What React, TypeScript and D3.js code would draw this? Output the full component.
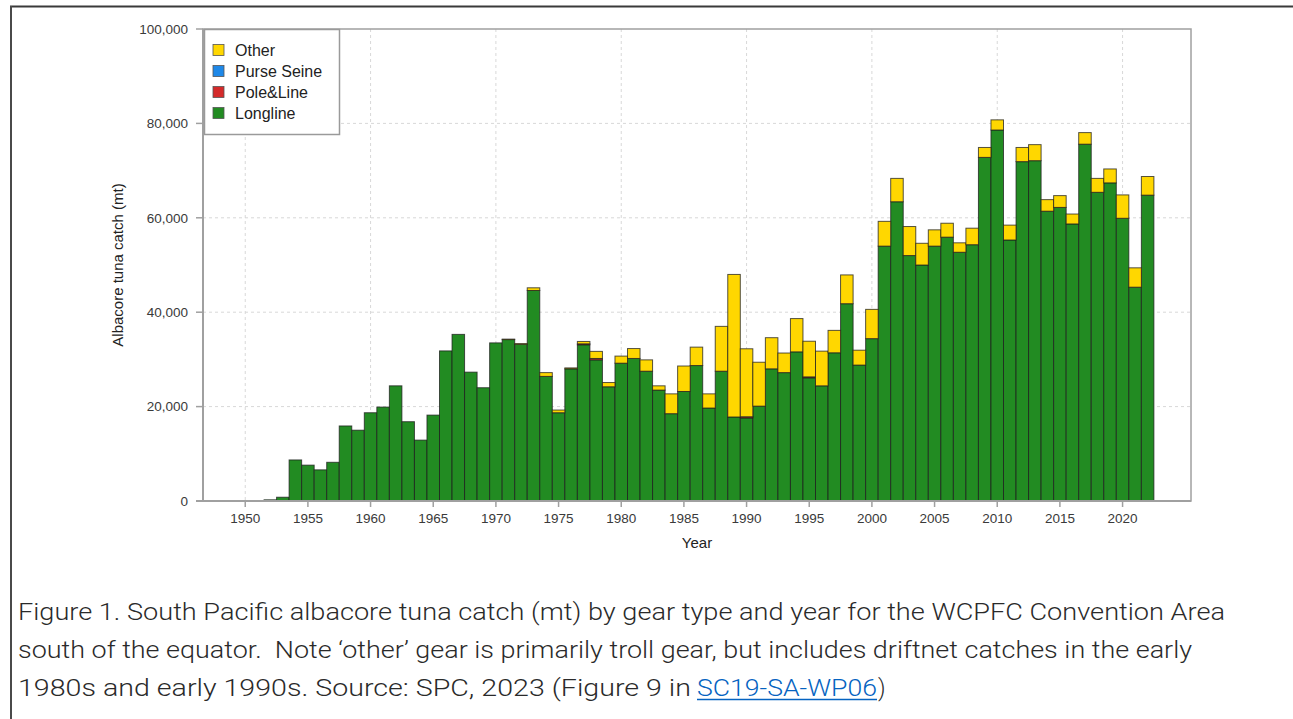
import React from 'react';
import * as d3 from 'd3';

// years 1952..2022
const years = d3.range(1952, 2023);

const longline = [
  250, 800, 8700, 7600, 6600, 8200, 15900, 15000, 18700, 19900,
  24400, 16800, 12900, 18200, 31800, 35300, 27300, 24000, 33500, 34200,
  33200, 44600, 26400, 18700, 28000, 33100, 29900, 24200, 29200, 30200,
  27500, 23500, 18500, 23200, 28700, 19700, 27500, 17800, 17600, 20100,
  28000, 27200, 31600, 26100, 24400, 31400, 41800, 28800, 34400, 54000,
  63400, 52000, 50000, 54000, 55900, 52700, 54300, 72800, 78600, 55300,
  71900, 72100, 61400, 62200, 58700, 75600, 65400, 67400, 59900, 45300,
  64800,
];

const poleLine = [
  0, 0, 0, 0, 0, 0, 0, 0, 0, 0,
  0, 0, 0, 0, 0, 0, 0, 0, 0, 0,
  0, 0, 0, 0, 0, 200, 300, 0, 0, 0,
  0, 0, 0, 0, 0, 0, 0, 0, 250, 0,
  0, 0, 0, 200, 0, 0, 0, 0, 0, 0,
  0, 0, 0, 0, 0, 0, 0, 0, 0, 0,
  0, 0, 0, 0, 0, 0, 0, 0, 0, 0,
  0,
];

const purseSeine = [
  0, 0, 0, 0, 0, 0, 0, 0, 0, 0,
  0, 0, 0, 0, 0, 0, 0, 0, 0, 0,
  0, 0, 0, 0, 0, 0, 0, 0, 0, 0,
  0, 0, 0, 0, 0, 0, 0, 0, 0, 0,
  0, 0, 0, 0, 0, 0, 0, 0, 0, 0,
  0, 0, 0, 0, 0, 0, 0, 0, 0, 0,
  0, 0, 0, 0, 0, 0, 0, 0, 0, 0,
  0,
];

const other = [
  0, 0, 0, 0, 0, 0, 0, 0, 0, 0,
  0, 0, 0, 0, 0, 0, 0, 0, 0, 100,
  150, 570, 800, 570, 200, 500, 1500, 900, 1500, 2100,
  2400, 900, 4200, 5400, 3900, 3000, 9500, 30200, 14400, 9300,
  6600, 4150, 7050, 7550, 7350, 4750, 6100, 3150, 6200, 5250,
  4950, 6150, 4600, 3450, 2950, 2000, 3500, 2100, 2150, 3150,
  3000, 3400, 2450, 2500, 2100, 2450, 2950, 2950, 4950, 4100,
  3950,
];

const seriesKeys = ['longline', 'poleLine', 'purseSeine', 'other'];
const seriesColors: Record<string, string> = {
  longline: '#228B22',
  poleLine: '#D42A2A',
  purseSeine: '#1E88E8',
  other: '#FFD700',
};
const legendItems = [
  { key: 'other', label: 'Other' },
  { key: 'purseSeine', label: 'Purse Seine' },
  { key: 'poleLine', label: 'Pole&Line' },
  { key: 'longline', label: 'Longline' },
];

const xTicks = [1950, 1955, 1960, 1965, 1970, 1975, 1980, 1985, 1990, 1995, 2000, 2005, 2010, 2015, 2020];
const xGrid = [1950, 1960, 1970, 1980, 1990, 2000, 2010, 2020];
const yTicks = [0, 20000, 40000, 60000, 80000, 100000];

const captionLines = [
  'Figure 1. South Pacific albacore tuna catch (mt) by gear type and year for the WCPFC Convention Area',
  'south of the equator.  Note \u2018other\u2019 gear is primarily troll gear, but includes driftnet catches in the early',
];
const captionLast = ['1980s and early 1990s. Source: SPC, 2023 (Figure 9 in ', 'SC19-SA-WP06', ')'];

const plot = { left: 203, right: 1191, top: 29, bottom: 501 };
const axisFont = "'Liberation Sans', Arial, sans-serif";
const captionFont = "'Liberation Sans Narrow', 'Roboto', sans-serif";

export default function App() {
  const x = d3.scaleLinear().domain([1946.63, 2025.46]).range([plot.left, plot.right]);
  const y = d3.scaleLinear().domain([0, 100000]).range([plot.bottom, plot.top]);
  const fmt = d3.format(',');

  const rows = years.map((yr, i) => ({
    year: yr,
    longline: longline[i],
    poleLine: poleLine[i],
    purseSeine: purseSeine[i],
    other: other[i],
  }));
  const stacked = d3.stack<any>().keys(seriesKeys)(rows);

  return (
    <svg width={1293} height={719} style={{ position: 'absolute', left: 0, top: 0, display: 'block', background: '#fff' }}>
      {/* outer figure frame */}
      <line x1={10} x2={1293} y1={6.5} y2={6.5} stroke="#3a3a3a" strokeWidth={2} />
      <line x1={11} x2={11} y1={6} y2={719} stroke="#4a4a4a" strokeWidth={2} />

      {/* grid */}
      {xGrid.map(t => (
        <line key={'gx' + t} x1={x(t)} x2={x(t)} y1={plot.top} y2={plot.bottom}
          stroke="#d8d8d8" strokeDasharray="3,3" />
      ))}
      {yTicks.slice(1, -1).map(t => (
        <line key={'gy' + t} x1={plot.left} x2={plot.right} y1={y(t)} y2={y(t)}
          stroke="#d8d8d8" strokeDasharray="3,3" />
      ))}

      {/* bars */}
      {stacked.map(layer => (
        <g key={layer.key} fill={seriesColors[layer.key]}>
          {layer.map((d: any) => {
            const h = y(d[0]) - y(d[1]);
            if (h <= 0) return null;
            const x0 = x(d.data.year - 0.5);
            return (
              <rect key={d.data.year} x={x0} y={y(d[1])} width={x(d.data.year + 0.5) - x0} height={h}
                stroke="#1e1e1e" strokeOpacity={0.75} strokeWidth={1} />
            );
          })}
        </g>
      ))}

      {/* plot frame */}
      <rect x={plot.left} y={plot.top} width={plot.right - plot.left} height={plot.bottom - plot.top}
        fill="none" stroke="#a0a0a0" strokeWidth={1.5} />
      <line x1={plot.left} x2={plot.left} y1={plot.top} y2={plot.bottom} stroke="#a0a0a0" strokeWidth={2} />
      <line x1={plot.left - 7} x2={plot.right} y1={plot.bottom} y2={plot.bottom} stroke="#a0a0a0" strokeWidth={2} />

      {/* y axis */}
      {yTicks.map(t => (
        <g key={'yt' + t}>
          <line x1={plot.left - 7} x2={plot.left} y1={y(t)} y2={y(t)} stroke="#a0a0a0" strokeWidth={1.5} />
          <text x={188} y={y(t)} dy="0.35em" textAnchor="end" fontFamily={axisFont} fontSize={13.5} fill="#3a3a3a">
            {fmt(t)}
          </text>
        </g>
      ))}

      {/* x axis */}
      {xTicks.map(t => (
        <g key={'xt' + t}>
          <line x1={x(t)} x2={x(t)} y1={plot.bottom} y2={plot.bottom + 6} stroke="#a0a0a0" strokeWidth={1.5} />
          <text x={x(t)} y={523} textAnchor="middle" fontFamily={axisFont} fontSize={13.5} fill="#3a3a3a">
            {t}
          </text>
        </g>
      ))}

      <text x={697} y={548} textAnchor="middle" fontFamily={axisFont} fontSize={15} fill="#222">Year</text>
      <text transform={`translate(123,${(plot.top + plot.bottom) / 2}) rotate(-90)`} textAnchor="middle"
        fontFamily={axisFont} fontSize={15} fill="#222">Albacore tuna catch (mt)</text>

      {/* legend */}
      <rect x={204.5} y={29.5} width={135} height={105} fill="#fff" stroke="#9a9a9a" strokeWidth={1.5} />
      {legendItems.map((it, i) => (
        <g key={it.key} transform={`translate(213,${50 + i * 21})`}>
          <rect x={0} y={-5.5} width={11} height={11} fill={seriesColors[it.key]} stroke="#555" strokeWidth={0.8} />
          <text x={22} y={0} dy="0.36em" fontFamily={axisFont} fontSize={16} fill="#222">{it.label}</text>
        </g>
      ))}

      {/* caption */}
      <text x={18} y={620} fontFamily={captionFont} fontWeight={300} fontSize={23} fill="#2a2a2a"
        textLength={1207} lengthAdjust="spacingAndGlyphs">{captionLines[0]}</text>
      <text x={18} y={658} fontFamily={captionFont} fontWeight={300} fontSize={23} fill="#2a2a2a"
        textLength={1174} lengthAdjust="spacingAndGlyphs" style={{ whiteSpace: 'pre' }}>{captionLines[1]}</text>
      <text x={18} y={696} fontFamily={captionFont} fontWeight={300} fontSize={23} fill="#2a2a2a"
        textLength={673} lengthAdjust="spacingAndGlyphs">{captionLast[0]}</text>
      <text x={697} y={696} fontFamily={captionFont} fontWeight={300} fontSize={23} fill="#0563C1"
        textLength={180} lengthAdjust="spacingAndGlyphs">{captionLast[1]}</text>
      <line x1={697} x2={877} y1={699.5} y2={699.5} stroke="#0563C1" strokeWidth={1.5} />
      <text x={878} y={696} fontFamily={captionFont} fontWeight={300} fontSize={23} fill="#2a2a2a">{captionLast[2]}</text>
    </svg>
  );
}
